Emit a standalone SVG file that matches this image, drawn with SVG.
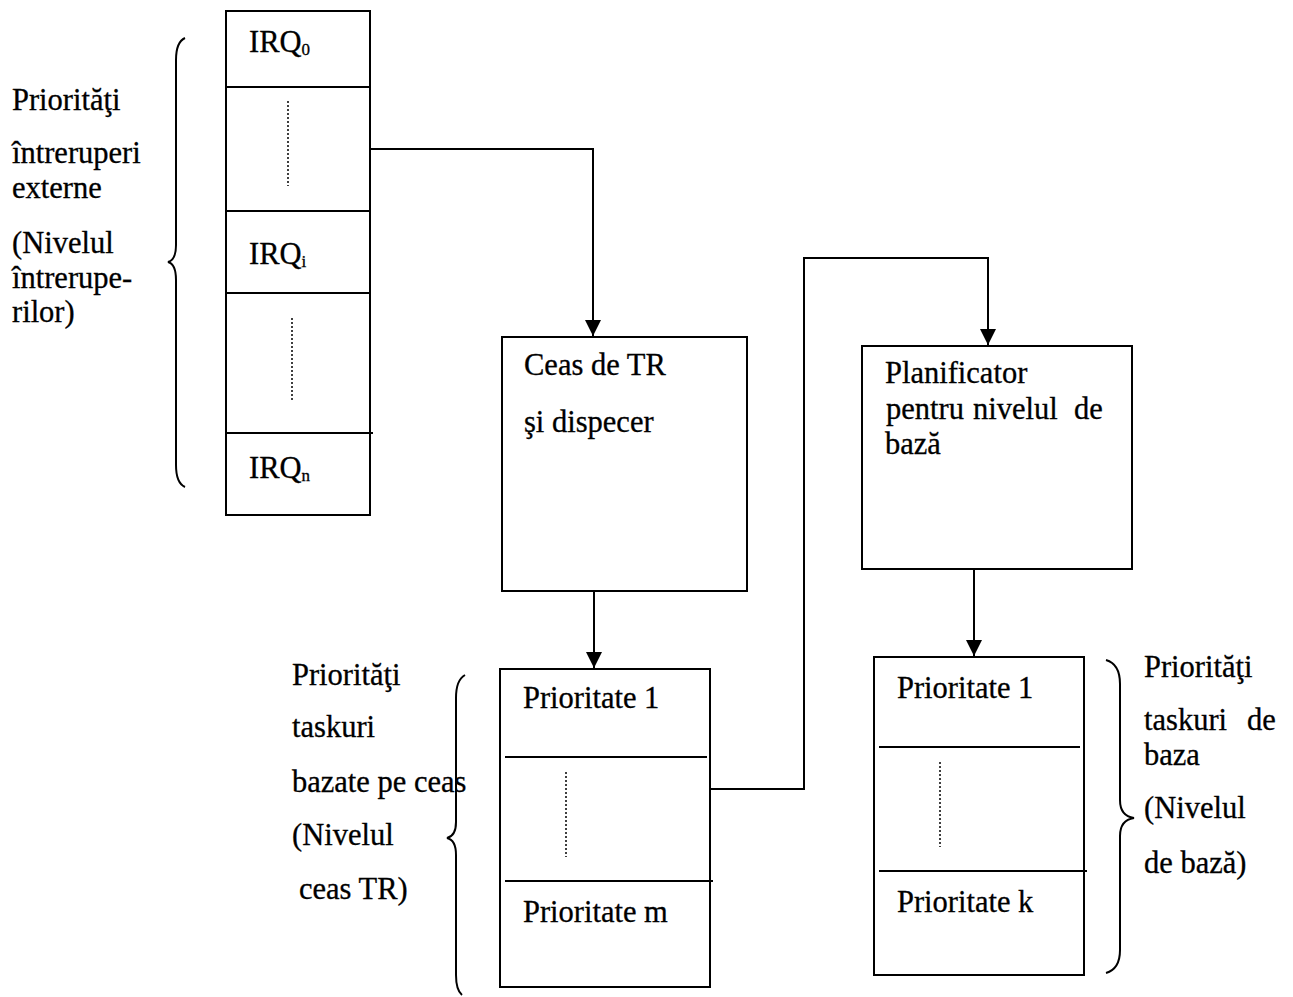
<svg xmlns="http://www.w3.org/2000/svg" width="1293" height="997" viewBox="0 0 1293 997">
  <style>
    .box { fill: #fff; stroke: #000; stroke-width: 2; }
    .div { stroke: #000; stroke-width: 2; fill: none; }
    .dots { stroke: #000; stroke-width: 1.5; stroke-dasharray: 2 2; fill: none; }
    .wire { stroke: #000; stroke-width: 2; fill: none; }
    .brace { stroke: #000; stroke-width: 2; fill: none; }
    text { font-family: "Liberation Serif", "Times New Roman", serif; font-size: 30.5px; fill: #000; stroke: #000; stroke-width: 0.3; }
    .sub { font-size: 17px; }
  </style>
  <defs>
    <marker id="arrow" markerWidth="16" markerHeight="18" refX="16" refY="8" orient="auto" markerUnits="userSpaceOnUse">
      <path d="M0,0 L16,8 L0,16 Z" fill="#000"/>
    </marker>
  </defs>

  <rect width="1293" height="997" fill="#fff"/>

  <!-- interrupt level label and brace -->
  <g id="irq-label">
    <text x="12" y="110">Priorităţi</text>
    <text x="12" y="163">întreruperi</text>
    <text x="12" y="198">externe</text>
    <text x="12" y="253">(Nivelul</text>
    <text x="12" y="288">întrerupe-</text>
    <text x="12" y="322">rilor)</text>
    <path class="brace" d="M185,38 Q176,42 176,60 L176,245 Q176,260 168,262 Q176,264 176,280 L176,465 Q176,483 185,487"/>
  </g>

  <!-- interrupt request table -->
  <g id="irq-table">
    <rect class="box" x="226" y="11" width="144" height="504"/>
    <line class="div" x1="226" y1="87" x2="370" y2="87"/>
    <line class="div" x1="226" y1="211" x2="370" y2="211"/>
    <line class="div" x1="226" y1="293" x2="370" y2="293"/>
    <line class="div" x1="226" y1="433" x2="373" y2="433"/>
    <text x="249" y="52">IRQ<tspan class="sub" dy="3">0</tspan></text>
    <text x="249" y="264">IRQ<tspan class="sub" dy="3">i</tspan></text>
    <text x="249" y="478">IRQ<tspan class="sub" dy="3">n</tspan></text>
    <line class="dots" x1="288" y1="101" x2="288" y2="186"/>
    <line class="dots" x1="292" y1="318" x2="292" y2="402"/>
  </g>

  <!-- real-time clock and dispatcher -->
  <g id="clock-dispatcher">
    <rect class="box" x="502" y="337" width="245" height="254"/>
    <text x="524" y="375">Ceas de TR</text>
    <text x="524" y="432">şi dispecer</text>
  </g>

  <!-- base level scheduler -->
  <g id="base-scheduler">
    <rect class="box" x="862" y="346" width="270" height="223"/>
    <text x="885" y="383">Planificator</text>
    <text y="419"><tspan x="886">pentru</tspan><tspan x="973">nivelul</tspan><tspan x="1074">de</tspan></text>
    <text x="885" y="454">bază</text>
  </g>

  <!-- clock-based task priorities -->
  <g id="clock-tasks">
    <rect class="box" x="500" y="669" width="210" height="318"/>
    <line class="div" x1="505" y1="757" x2="707" y2="757"/>
    <line class="div" x1="505" y1="881" x2="713" y2="881"/>
    <text x="523" y="708">Prioritate 1</text>
    <text x="523" y="922">Prioritate m</text>
    <line class="dots" x1="566" y1="772" x2="566" y2="857"/>
  </g>

  <g id="clock-tasks-label">
    <text x="292" y="685">Priorităţi</text>
    <text x="292" y="737">taskuri</text>
    <text x="292" y="792">bazate pe ceas</text>
    <text x="292" y="845">(Nivelul</text>
    <text x="299" y="899">ceas TR)</text>
    <path class="brace" d="M465,675 Q456,680 456,698 L456,822 Q456,836 447,838 Q456,840 456,855 L456,975 Q456,990 462,995"/>
  </g>

  <!-- base level task priorities -->
  <g id="base-tasks">
    <rect class="box" x="874" y="657" width="210" height="318"/>
    <line class="div" x1="879" y1="747" x2="1080" y2="747"/>
    <line class="div" x1="879" y1="871" x2="1087" y2="871"/>
    <text x="897" y="698">Prioritate 1</text>
    <text x="897" y="912">Prioritate k</text>
    <line class="dots" x1="940" y1="762" x2="940" y2="847"/>
  </g>

  <g id="base-tasks-label">
    <path class="brace" d="M1106,660 Q1120,664 1120,684 L1120,800 Q1120,816 1134,818 Q1120,820 1120,836 L1120,950 Q1120,969 1106,973"/>
    <text x="1144" y="677">Priorităţi</text>
    <text y="730"><tspan x="1144">taskuri</tspan><tspan x="1247">de</tspan></text>
    <text x="1144" y="765">baza</text>
    <text x="1144" y="818">(Nivelul</text>
    <text x="1144" y="873">de bază)</text>
  </g>

  <!-- connectors -->
  <g id="connectors">
    <polyline class="wire" points="370,149 593,149 593,336" marker-end="url(#arrow)"/>
    <line class="wire" x1="594" y1="591" x2="594" y2="668" marker-end="url(#arrow)"/>
    <polyline class="wire" points="710,789 804,789 804,258 988,258 988,345" marker-end="url(#arrow)"/>
    <line class="wire" x1="974" y1="569" x2="974" y2="656" marker-end="url(#arrow)"/>
  </g>
</svg>
